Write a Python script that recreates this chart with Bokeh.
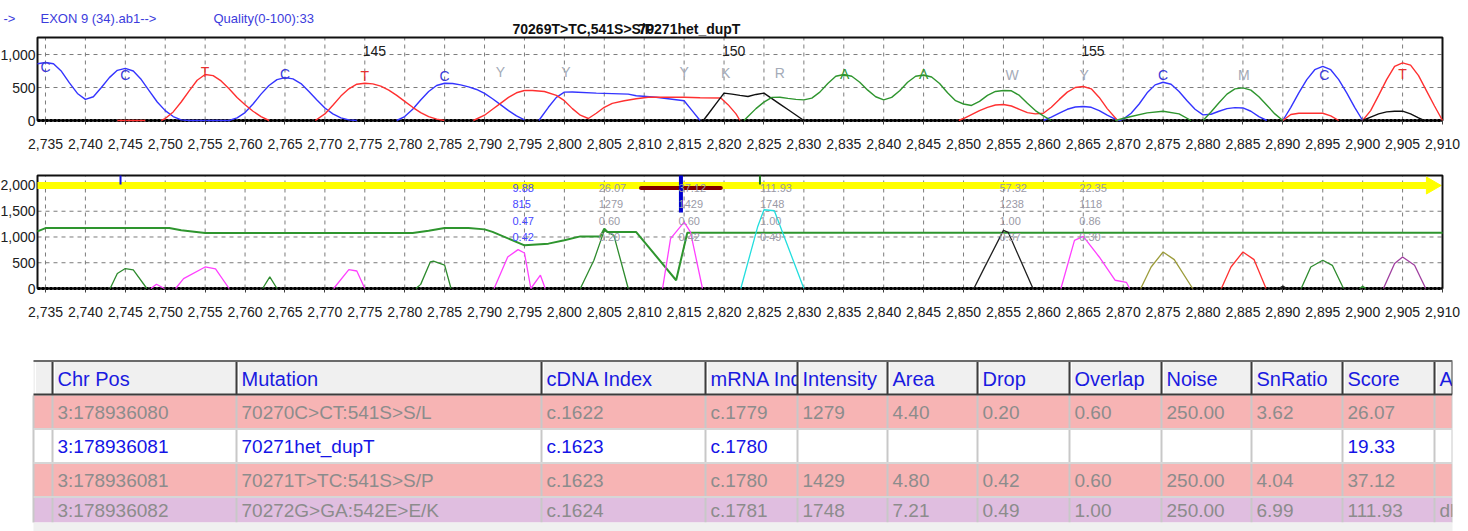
import math
from bokeh.plotting import figure
from bokeh.models import ColumnDataSource, FixedTicker, NumeralTickFormatter, Range1d, LinearAxis
from bokeh.core.properties import value
from bokeh.embed import file_html
from bokeh.resources import INLINE

FONT = "Liberation Sans"
NAN = float("nan")

# ---------------- data ----------------
x_tick_values = list(range(2735, 2911, 5))

# top chromatogram traces (position, intensity); None = break
trace_A = [(2822.5, 0), (2823, 60), (2824, 180), (2825, 280), (2826, 350), (2827, 352), (2828, 335), (2829, 320),
           (2830, 313), (2831, 340), (2832, 430), (2833, 560), (2834, 670), (2835, 697), (2836, 670), (2837, 580),
           (2838, 460), (2839, 360), (2840, 313), (2841, 350), (2842, 450), (2843, 580), (2844, 670), (2845, 690),
           (2846, 660), (2847, 560), (2848, 420), (2849, 300), (2850, 250), (2851, 228), (2852, 290), (2853, 380),
           (2854, 440), (2855, 455), (2856, 450), (2857, 380), (2858, 260), (2859, 150), (2860, 70), (2861, 0), None,
           (2869, 0), (2871, 60), (2873, 115), (2875, 141), (2877, 100), (2878.5, 0), None,
           (2880, 0), (2881, 130), (2882, 270), (2883, 400), (2884, 480), (2885, 495), (2886, 460), (2887, 360),
           (2888, 230), (2889, 100), (2890, 0)]
trace_C = [(2734, 860), (2735, 880), (2736, 860), (2737, 745), (2738, 570), (2739, 410), (2740, 320), (2741, 360),
           (2742, 500), (2743, 650), (2744, 760), (2745, 790), (2746, 750), (2747, 620), (2748, 450), (2749, 280),
           (2750, 150), (2751, 60), (2752, 10), (2753, 0), (2758, 0), (2759, 40), (2760, 120), (2761, 250),
           (2762, 400), (2763, 530), (2764, 620), (2765, 650), (2766, 630), (2767, 560), (2768, 440), (2769, 310),
           (2770, 190), (2771, 100), (2772, 40), (2773, 10), (2774, 0), None,
           (2779, 0), (2780, 60), (2781, 170), (2782, 310), (2783, 440), (2784, 530), (2785, 565), (2786, 560),
           (2787, 540), (2788, 510), (2789, 470), (2790, 410), (2791, 330), (2792, 240), (2793, 150), (2794, 70),
           (2795, 10), None,
           (2796.8, 0), (2798, 200), (2799, 350), (2800, 430), (2801, 432), (2804, 415), (2808, 400), (2809, 375),
           (2811.5, 352), (2813, 330), (2815, 300), (2816, 150), (2817, 0), None,
           (2860, 0), (2861, 50), (2862, 110), (2863, 170), (2864, 205), (2865, 212), (2866, 200), (2867, 150),
           (2868, 80), (2869, 20), (2869.5, 0), (2870, 20), (2871, 110), (2872, 250), (2873, 420), (2874, 540),
           (2875, 580), (2876, 550), (2877, 440), (2878, 300), (2879, 170), (2880, 85), (2881, 95), (2882, 140),
           (2883, 180), (2884, 195), (2885, 190), (2886, 140), (2887, 60), (2888, 0), None,
           (2890, 0), (2891, 200), (2892, 420), (2893, 620), (2894, 770), (2895, 820), (2896, 770), (2897, 620),
           (2898, 420), (2899, 200), (2900, 0)]
trace_G = [(2817.4, 0), (2818, 95), (2819, 255), (2820, 415), (2821, 400), (2822, 380), (2823, 364), (2824, 395),
           (2825, 415), (2826, 332), (2827, 249), (2828, 166), (2829, 83), (2830, 0), None,
           (2900, 0), (2901, 50), (2902, 100), (2903, 130), (2904, 141), (2905, 141), (2906, 100), (2907, 40),
           (2907.7, 0)]
trace_T = [(2744, 0), (2747.5, 0), None,
           (2749.5, 0), (2750, 30), (2751, 130), (2752, 280), (2753, 450), (2754, 610), (2755, 697), (2756, 680),
           (2757, 600), (2758, 480), (2759, 350), (2760, 240), (2761, 140), (2762, 60), (2763, 0), None,
           (2768.8, 0), (2770, 100), (2771, 230), (2772, 370), (2773, 480), (2774, 550), (2775, 565), (2776, 555),
           (2777, 520), (2778, 460), (2779, 380), (2780, 290), (2781, 200), (2782, 120), (2783, 60), (2784, 20),
           (2785, 0), None,
           (2788.6, 0), (2790, 80), (2791, 170), (2792, 260), (2793, 350), (2794, 420), (2795, 455), (2796, 455),
           (2797.5, 440), (2799, 380), (2800, 300), (2801, 180), (2802, 80), (2803, 30), (2804, 110), (2805, 200),
           (2806, 260), (2807.5, 300), (2809, 330), (2810.5, 353), (2813, 355), (2815, 353), (2817, 345),
           (2819.6, 340), (2820.5, 240), (2821.5, 100), (2822, 0), None,
           (2849.4, 0), (2850, 30), (2851, 90), (2852, 150), (2853, 200), (2854, 235), (2855, 242), (2856, 220),
           (2857, 170), (2858, 120), (2859, 100), (2860, 110), (2861, 200), (2862, 320), (2863, 430), (2864, 500),
           (2865, 515), (2866, 480), (2867, 350), (2868, 180), (2869.3, 0), None,
           (2890, 0), (2891, 90), (2892, 110), (2895, 110), (2896, 70), (2897, 0), None,
           (2900, 0), (2901, 150), (2902, 380), (2903, 620), (2904, 820), (2905, 874), (2906, 840), (2907, 680),
           (2908, 450), (2909, 220), (2910, 0)]

base_pos = [2735, 2745, 2755, 2765, 2775, 2785, 2792, 2800.2, 2815, 2820.2, 2827, 2835.1, 2845, 2856.1, 2865.1,
            2875, 2885.1, 2895.2, 2905]
base_call = ["C", "C", "T", "C", "T", "C", "Y", "Y", "Y", "K", "R", "A", "A", "W", "Y", "C", "M", "C", "T"]
base_label_y = [808, 697, 732, 707, 682, 667, 732, 732, 732, 720, 720, 700, 700, 690, 697, 697, 690, 697, 712]
base_index_pos = [2775, 2820, 2865]
base_index_label = ["145", "150", "155"]

# bottom chart: detected peaks per colour
peaks_green = [(2743.1, 0), (2744, 290), (2745, 387), (2746, 360), (2747.7, 0), None,
               (2762.2, 0), (2763.1, 225), (2764, 0), None,
               (2781.4, 0), (2782, 80), (2783.2, 515), (2783.6, 530), (2785, 454), (2785.8, 0), None,
               (2802, 0), (2803.7, 548), (2805, 1129), (2806.2, 1032), (2808, 0), None,
               (2892.3, 0), (2893.5, 418), (2895, 548), (2896.2, 450), (2897.6, 0), None,
               (2899.6, 0), (2900, 45), (2900.4, 0)]
peaks_magenta = [(2748.2, 0), (2748.9, 83), (2749.9, 0), None,
                 (2751.3, 0), (2752.3, 193), (2755, 418), (2756.3, 380), (2758, 0), None,
                 (2771.1, 0), (2773, 367), (2774, 340), (2775, 0), None,
                 (2791.2, 0), (2792.9, 612), (2794.2, 755), (2795, 690), (2795.8, 0), (2797, 258), (2797.6, 0), None,
                 (2812.3, 0), (2813.3, 968), (2815, 1290), (2815.8, 1096), (2817.3, 0), None,
                 (2862.2, 0), (2863.9, 935), (2865, 1012), (2867, 612), (2869, 160), (2870.4, 120), (2870.8, 0)]
peaks_cyan = [(2822.1, 0), (2824.2, 1193), (2825, 1529), (2826.3, 1510), (2830, 0)]
peaks_black = [(2851.3, 0), (2852.6, 400), (2855, 1129), (2855.6, 1090), (2858.7, 0), None,
               (2889.5, 0), (2890, 45), (2890.5, 0)]
peaks_olive = [(2872.2, 0), (2873.5, 418), (2875, 709), (2876.4, 560), (2878.7, 0)]
peaks_red = [(2882.3, 0), (2883.5, 418), (2885, 709), (2886.4, 560), (2887.9, 0)]
peaks_purple = [(2902.6, 0), (2904.0, 484), (2905, 612), (2906.5, 451), (2907.9, 0)]
threshold_line = [(2734, 1110), (2735, 1173), (2750.5, 1173), (2752, 1129), (2755, 1077), (2781, 1077),
                  (2783, 1120), (2785, 1173), (2788, 1173), (2790, 1148), (2791, 1100), (2795, 838), (2798, 871),
                  (2800, 935), (2802, 1012), (2804.5, 1012), (2805, 1161), (2805.4, 1096), (2809, 1096),
                  (2814, 160), (2815.4, 1084), (2910, 1084)]

mark_x = [2744.4, 2814.6, 2824.5]
mark_y0 = [2020, 1477, 2020]
mark_y1 = [2194, 2194, 2194]
mark_color = ["#1414e0", "#0000d0", "#1f7a1f"]
mark_width = [2, 4, 2]
bar_x0 = [2809.6]
bar_x1 = [2819.6]
bar_y = [1950]
marker_level = [2000]

ann_pos = [2793.5, 2804.3, 2814.3, 2824.5, 2854.5, 2864.5]
ann_score = ["9.88", "26.07", "37.12", "111.93", "57.32", "22.35"]
ann_intensity = ["815", "1279", "1429", "1748", "1238", "1118"]
ann_overlap = ["0.47", "0.60", "0.60", "1.00", "1.00", "0.86"]
ann_drop = ["0.42", "0.20", "0.42", "0.49", "0.37", "0.30"]
ann_color = ["#4848ff", "#9a9aa6", "#9a9aa6", "#9a9aa6", "#9a9aa6", "#9a9aa6"]

# table
headers = ["", "Chr Pos", "Mutation", "cDNA Index", "mRNA Index", "Intensity", "Area", "Drop", "Overlap",
           "Noise", "SnRatio", "Score", "A"]
chr_pos = ["3:178936080", "3:178936081", "3:178936081", "3:178936082"]
mutation = ["70270C>CT:541S>S/L", "70271het_dupT", "70271T>TC:541S>S/P", "70272G>GA:542E>E/K"]
cdna_index = ["c.1622", "c.1623", "c.1623", "c.1624"]
mrna_index = ["c.1779", "c.1780", "c.1780", "c.1781"]
intensity = ["1279", "", "1429", "1748"]
area = ["4.40", "", "4.80", "7.21"]
drop = ["0.20", "", "0.42", "0.49"]
overlap = ["0.60", "", "0.60", "1.00"]
noise = ["250.00", "", "250.00", "250.00"]
snratio = ["3.62", "", "4.04", "6.99"]
score = ["26.07", "19.33", "37.12", "111.93"]
last_col = ["", "", "", "db"]
row_fill = ["#f7b4b4", "#ffffff", "#f7b4b4", "#e0bee0"]
row_text = ["#8c8c8c", "#1414e6", "#8c8c8c", "#8c8c8c"]


def split(pts):
    xs, ys = [], []
    for pt in pts:
        if pt is None:
            xs.append(NAN)
            ys.append(NAN)
        else:
            xs.append(pt[0])
            ys.append(pt[1])
    return xs, ys


# ---------------- canvas & scales ----------------
W, H = 1468, 531
FL, FR = 37, 1442          # chart frame left/right (px)
X0, X1 = 2734, 2910        # visible position range
GRID = "#7c7c7c"
tfont = value(FONT)

p = figure(width=W, height=H, x_range=Range1d(0, W), y_range=Range1d(H, 0), min_border=0,
           x_axis_location=None, y_axis_location=None, toolbar_location=None, output_backend="svg")
p.outline_line_color = None
p.background_fill_color = "white"
p.border_fill_color = "white"
p.xgrid.visible = False
p.ygrid.visible = False
p.grid.grid_line_color = None

kx = (FR - FL) / (X1 - X0)
p.extra_x_ranges = {"pos": Range1d(X0 - FL / kx, X0 + (W - FL) / kx)}


def intensity_range(top_px, base_px, vmax):
    ky = (base_px - top_px) / vmax
    return Range1d(-(H - base_px) / ky, base_px / ky)


CH1 = dict(name="i1", top=37, base=120, vmax=1258, yticks=[500, 1000])
CH2 = dict(name="i2", top=175, base=288, vmax=2194, yticks=[500, 1000, 1500, 2000])
p.extra_y_ranges = {c["name"]: intensity_range(c["top"], c["base"], c["vmax"]) for c in (CH1, CH2)}


def chart_frame(c):
    kw = dict(x_range_name="pos", y_range_name=c["name"])
    n = len(x_tick_values)
    p.segment(x0=x_tick_values, y0=[0] * n, x1=x_tick_values, y1=[c["vmax"]] * n,
              line_color=GRID, line_dash="4 4", line_width=1, **kw)
    m = len(c["yticks"])
    p.segment(x0=[X0] * m, y0=c["yticks"], x1=[X1] * m, y1=c["yticks"],
              line_color=GRID, line_dash="4 4", line_width=1, **kw)
    p.quad(left=[X0], right=[X1], bottom=[0], top=[c["vmax"]], fill_color=None,
           line_color="#101010", line_width=2, **kw)
    p.line([X0, X1], [0, 0], line_color="black", line_width=3, line_dash="3 1", **kw)

    xa = LinearAxis(x_range_name="pos", y_range_name=c["name"], fixed_location=0,
                    ticker=FixedTicker(ticks=x_tick_values), formatter=NumeralTickFormatter(format="0,0"))
    xa.axis_line_color = None
    xa.major_tick_out = 4
    xa.major_tick_in = 0
    xa.major_tick_line_color = "#404040"
    xa.minor_tick_line_color = None
    xa.major_label_standoff = 14
    xa.major_label_text_font = FONT
    xa.major_label_text_font_size = "14px"
    xa.major_label_text_color = "#202020"
    p.add_layout(xa, "below")

    ya = LinearAxis(x_range_name="pos", y_range_name=c["name"], fixed_location=X0,
                    ticker=FixedTicker(ticks=[0] + c["yticks"]), formatter=NumeralTickFormatter(format="0,0"))
    ya.axis_line_color = None
    ya.major_tick_out = 0
    ya.major_tick_in = 0
    ya.minor_tick_line_color = None
    ya.major_label_standoff = 2
    ya.major_label_text_font = FONT
    ya.major_label_text_font_size = "14px"
    ya.major_label_text_color = "#202020"
    p.add_layout(ya, "left")


# ---------------- header line ----------------
p.text([3, 40, 213], [18, 18, 18], text=["->", "EXON 9 (34).ab1-->", "Quality(0-100):33"],
       text_color="#3c3cdc", text_baseline="middle", text_font=tfont, text_font_size="13px")
p.text([512, 638], [28, 28], text=["70269T>TC,541S>S/P", "70271het_dupT"], text_color="#101010",
       text_baseline="middle", text_font=tfont, text_font_size="14px", text_font_style="bold")

# ---------------- top chromatogram ----------------
chart_frame(CH1)
k1 = dict(x_range_name="pos", y_range_name="i1")
for pts, col in [(trace_C, "#3434ff"), (trace_T, "#ff3030"), (trace_G, "#101010"), (trace_A, "#2e952e")]:
    xs, ys = split(pts)
    p.line(xs, ys, line_color=col, line_width=1.4, **k1)

call_colors = {"A": "#2e952e", "C": "#3a3ad8", "G": "#101010", "T": "#e83030"}
src_calls = ColumnDataSource(dict(x=base_pos, y=base_label_y, t=base_call,
                                  c=[call_colors.get(b, "#a4abb8") for b in base_call]))
p.text("x", "y", text="t", source=src_calls, text_color="c", text_align="center", text_baseline="middle",
       text_font=tfont, text_font_size="14px", **k1)
p.text(base_index_pos, [1060] * 3, text=base_index_label, text_align="left", text_baseline="middle",
       text_font=tfont, text_font_size="14px", text_color="#202020", x_offset=-2, **k1)

# ---------------- bottom chart ----------------
chart_frame(CH2)
k2 = dict(x_range_name="pos", y_range_name="i2")
p.segment(x0=[X0], y0=marker_level, x1=[2908], y1=marker_level, line_color="#ffff00", line_width=7, **k2)
p.scatter([2908.6], marker_level, marker="triangle", size=17, angle=-math.pi / 2,
          fill_color="#ffff00", line_color="#ffff00", **k2)
xs, ys = split(threshold_line)
p.line(xs, ys, line_color="#2e952e", line_width=2, **k2)
for pts, col in [(peaks_green, "#2e8b2e"), (peaks_magenta, "#ff40ff"), (peaks_cyan, "#22dede"),
                 (peaks_black, "#202020"), (peaks_olive, "#9c9c3a"), (peaks_red, "#ff3030"),
                 (peaks_purple, "#a040a0")]:
    xs, ys = split(pts)
    p.line(xs, ys, line_color=col, line_width=1.3, **k2)
p.segment(x0=bar_x0, y0=bar_y, x1=bar_x1, y1=bar_y, line_color="#800000", line_width=4, line_cap="round", **k2)
p.segment(x0=mark_x, y0=mark_y0, x1=mark_x, y1=mark_y1, line_color=mark_color, line_width=mark_width, **k2)
for vals, yv in [(ann_score, 1961), (ann_intensity, 1638), (ann_overlap, 1317), (ann_drop, 993)]:
    p.text(ann_pos, [yv] * len(ann_pos), text=vals, text_color=ann_color, text_align="left",
           text_baseline="middle", text_font=tfont, text_font_size="11px", **k2)

# ---------------- table ----------------
col_edges = [33, 52, 236, 541, 705, 797, 887, 977, 1069, 1161, 1251, 1342, 1434, 1452]
row_top = [395, 429, 463, 497]
row_bottom = [428, 462, 496, 522]
row_mid = [412, 446, 480, 510]
columns = [[""] * 4, chr_pos, mutation, cdna_index, mrna_index, intensity, area, drop, overlap, noise,
           snratio, score, last_col]

p.quad(left=[33] * 4, right=[1452] * 4, top=row_top, bottom=row_bottom, fill_color=row_fill, line_color=None)
for i, h in enumerate(headers):
    p.quad(left=[col_edges[i]], right=[col_edges[i + 1]], top=[360], bottom=[394],
           fill_color="#f0f0f0", line_color=None)
    p.segment(x0=[col_edges[i] + 2], y0=[362], x1=[col_edges[i] + 2], y1=[393], line_color="white", line_width=1)
    if h:
        p.text([col_edges[i] + 5], [378], text=[h], text_color="#1a1ae0", text_baseline="middle",
               text_font=tfont, text_font_size="20px")
p.segment(x0=col_edges, y0=[395] * len(col_edges), x1=col_edges, y1=[522] * len(col_edges),
          line_color="#c8c8c8", line_width=2)
p.segment(x0=[33] * 3, y0=[428.5, 462.5, 496.5], x1=[1452] * 3, y1=[428.5, 462.5, 496.5],
          line_color="#d6d6d6", line_width=2)
p.segment(x0=col_edges[1:], y0=[360] * (len(col_edges) - 1), x1=col_edges[1:], y1=[394] * (len(col_edges) - 1),
          line_color="#3c3c3c", line_width=2)
p.segment(x0=[33], y0=[360.5], x1=[1452], y1=[360.5], line_color="#6a6a6a", line_width=2)
p.segment(x0=[33], y0=[394], x1=[1452], y1=[394], line_color="#3c3c3c", line_width=2)
for j in range(1, len(columns)):
    p.text([col_edges[j] + 5] * 4, row_mid, text=columns[j], text_color=row_text, text_baseline="middle",
           text_font=tfont, text_font_size="19px")
p.quad(left=[1452], right=[W], top=[340], bottom=[H], fill_color="white", line_color=None)
p.quad(left=[33], right=[1452], top=[522], bottom=[H], fill_color="#f0f0f0", line_color=None)

open("out.html", "w").write(file_html(p, INLINE))
